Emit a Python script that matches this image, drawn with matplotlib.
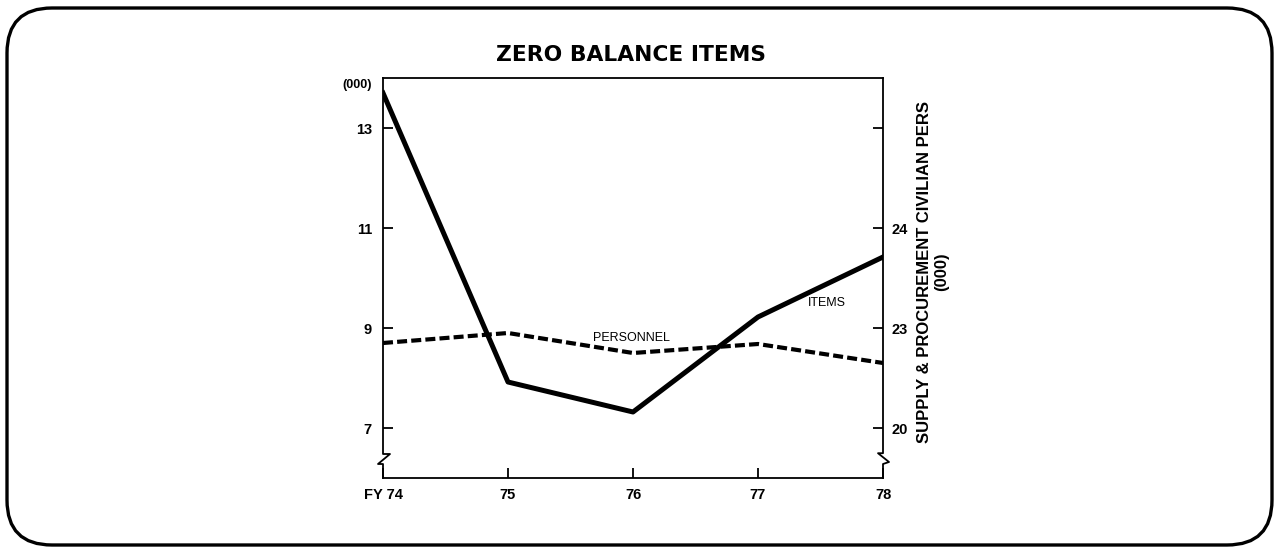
import numpy as np
import matplotlib
matplotlib.use("Agg")
from matplotlib import pyplot as plt
from matplotlib.patches import FancyBboxPatch

plt.rcParams['font.family'] = ['Liberation Sans', 'DejaVu Sans']

years = [74, 75, 76, 77, 78]
year_labels = ["FY 74", "75", "76", "77", "78"]
items = [13.7, 7.92, 7.32, 9.22, 10.42]          # zero balance items (000)
personnel = [22.85, 22.95, 22.75, 22.84, 22.65]  # supply & procurement civilian pers (000)

left_ticks = [13, 11, 9, 7]
right_ticks = [25, 24, 23, 22]
right_tick_labels = ["", "24", "23", "20"]

W, H = 1278, 549
fig = plt.figure(figsize=(W / 100, H / 100), dpi=100)

# rounded frame around the whole chart
bg = fig.add_axes([0, 0, 1, 1])
bg.set_xlim(0, W)
bg.set_ylim(H, 0)
bg.axis("off")
bg.add_patch(FancyBboxPatch((7, 8), W - 13, H - 12, boxstyle="round,pad=0,rounding_size=45",
                            fill=False, lw=2.4, ec="black"))

ax = fig.add_axes([383 / W, (H - 478) / H, 500 / W, 400 / H])
ax.set_xlim(74, 78)
ax.set_ylim(6, 14)

ax2 = ax.twinx()
lo, hi = ax.get_ylim()
ax2.set_ylim(23 + (lo - 9) / 2, 23 + (hi - 9) / 2)

ax.plot(years, items, color="black", lw=3.6, solid_joinstyle="round", zorder=3)
ax2.plot(years, personnel, color="black", lw=3.0, ls=(0, (2.4, 1.0)), zorder=3)

ax.text(75.99, 8.8, "PERSONNEL", fontsize=9, ha="center", va="center")
ax.text(77.55, 9.5, "ITEMS", fontsize=9, ha="center", va="center")

ax.set_xticks(years)
ax.set_xticklabels(year_labels, fontsize=10.5, fontweight="bold")
ax.set_yticks(left_ticks)
ax.set_yticklabels([str(t) for t in left_ticks], fontsize=10.5, fontweight="bold")
ax2.set_yticks(right_ticks)
ax2.set_yticklabels(right_tick_labels, fontsize=10.5, fontweight="bold")

ax.tick_params(axis="x", direction="in", length=7, width=1.3, pad=7)
ax.tick_params(axis="y", direction="in", length=7, width=1.3, pad=8)
ax2.tick_params(axis="y", direction="in", length=7, width=1.3, pad=6)

# broken left/right axes drawn by hand
for sp in ["left", "right"]:
    ax.spines[sp].set_visible(False)
    ax2.spines[sp].set_visible(False)
ax.spines["top"].set_linewidth(1.3)
ax.spines["bottom"].set_linewidth(1.3)
ax2.spines["top"].set_visible(False)
ax2.spines["bottom"].set_visible(False)

lx = [0, 0, 0.014, -0.01, 0, 0]
ly = [1, 0.06, 0.06, 0.035, 0.035, 0]
ax.plot(lx, ly, color="black", lw=1.3, transform=ax.transAxes, clip_on=False)
rx = [1, 1, 0.99, 1.012, 1, 1]
ry = [1, 0.062, 0.062, 0.04, 0.035, 0]
ax.plot(rx, ry, color="black", lw=1.3, transform=ax.transAxes, clip_on=False)

ax.text(-0.022, 0.983, "(000)", transform=ax.transAxes, ha="right", va="center",
        fontsize=9, fontweight="bold")

ax2.set_ylabel("SUPPLY & PROCUREMENT CIVILIAN PERS\n(000)", fontsize=12,
               fontweight="bold", linespacing=1.15)
ax2.yaxis.set_label_coords(1.068, 0.515)

fig.text(631 / W, 1 - 55 / H, "ZERO BALANCE ITEMS", ha="center", va="center",
         fontsize=15.7, fontweight="bold", family=["DejaVu Sans"])

fig.savefig("out.png", dpi=100)
